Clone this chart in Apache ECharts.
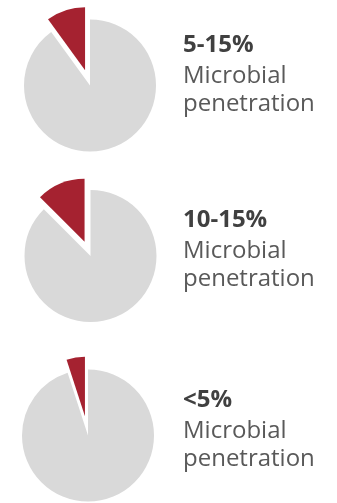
<!DOCTYPE html>
<html>
<head>
<meta charset="utf-8">
<script src="https://cdn.jsdelivr.net/npm/echarts@6/dist/echarts.min.js"></script>
<style>
html, body { margin: 0; padding: 0; background: #ffffff; }
#chart { width: 337px; height: 503px; }
</style>
</head>
<body>
<div id="chart"></div>
<script>
// Data
var rangeLabels = ['5-15%', '10-15%', '<5%'];
var descLine1 = 'Microbial';
var descLine2 = 'penetration';
var penetrationShare = [10, 12.5, 5];   // red exploded slice (%)
var remainderShare = [90, 87.5, 95];    // grey remainder (%)

// Layout / style
var RED = '#A52230';
var GREY = '#D9D9D9';
var pieCenters = [[90, 85.5], [90.5, 256], [88, 435.5]];
var sliceRadius = [63, 63, 59.5];
var sliceOffset = [16, 15.5, 19.5];
var textTops = [33, 208, 388];

var chart = echarts.init(document.getElementById('chart'), null, { renderer: 'canvas' });

var series = [];
var graphics = [];
for (var i = 0; i < rangeLabels.length; i++) {
  series.push({
    type: 'pie',
    center: pieCenters[i],
    radius: 66,
    startAngle: 90,
    clockwise: true,
    silent: true,
    animation: false,
    label: { show: false },
    labelLine: { show: false },
    itemStyle: { borderWidth: 0 },
    data: [
      { value: remainderShare[i], name: 'rest', itemStyle: { color: GREY } },
      { value: penetrationShare[i], name: 'penetration', itemStyle: { color: 'rgba(0,0,0,0)' } }
    ]
  });
  series.push({
    type: 'pie',
    center: pieCenters[i],
    radius: sliceRadius[i],
    startAngle: 90,
    clockwise: true,
    selectedMode: 'single',
    selectedOffset: sliceOffset[i],
    animation: false,
    label: { show: false },
    labelLine: { show: false },
    emphasis: { disabled: true },
    itemStyle: { borderWidth: 0 },
    select: { itemStyle: { color: RED, borderWidth: 0 } },
    data: [
      { value: remainderShare[i], name: 'rest', itemStyle: { color: 'rgba(0,0,0,0)' } },
      { value: penetrationShare[i], name: 'penetration', selected: true, itemStyle: { color: RED } }
    ]
  });
  graphics.push({
    type: 'text',
    left: 183,
    top: textTops[i],
    silent: true,
    style: {
      text: '{b|' + rangeLabels[i] + '}\n{r|' + descLine1 + '}\n{r|' + descLine2 + '}',
      rich: {
        b: { fontFamily: 'Open Sans', fontWeight: 'bold', fontSize: 24, lineHeight: 34, fill: '#404040', color: '#404040' },
        r: { fontFamily: 'Open Sans', fontWeight: 'normal', fontSize: 24, lineHeight: 28, fill: '#595959', color: '#595959' }
      }
    }
  });
}

chart.setOption({
  backgroundColor: '#ffffff',
  animation: false,
  series: series,
  graphic: graphics
});
</script>
</body>
</html>
